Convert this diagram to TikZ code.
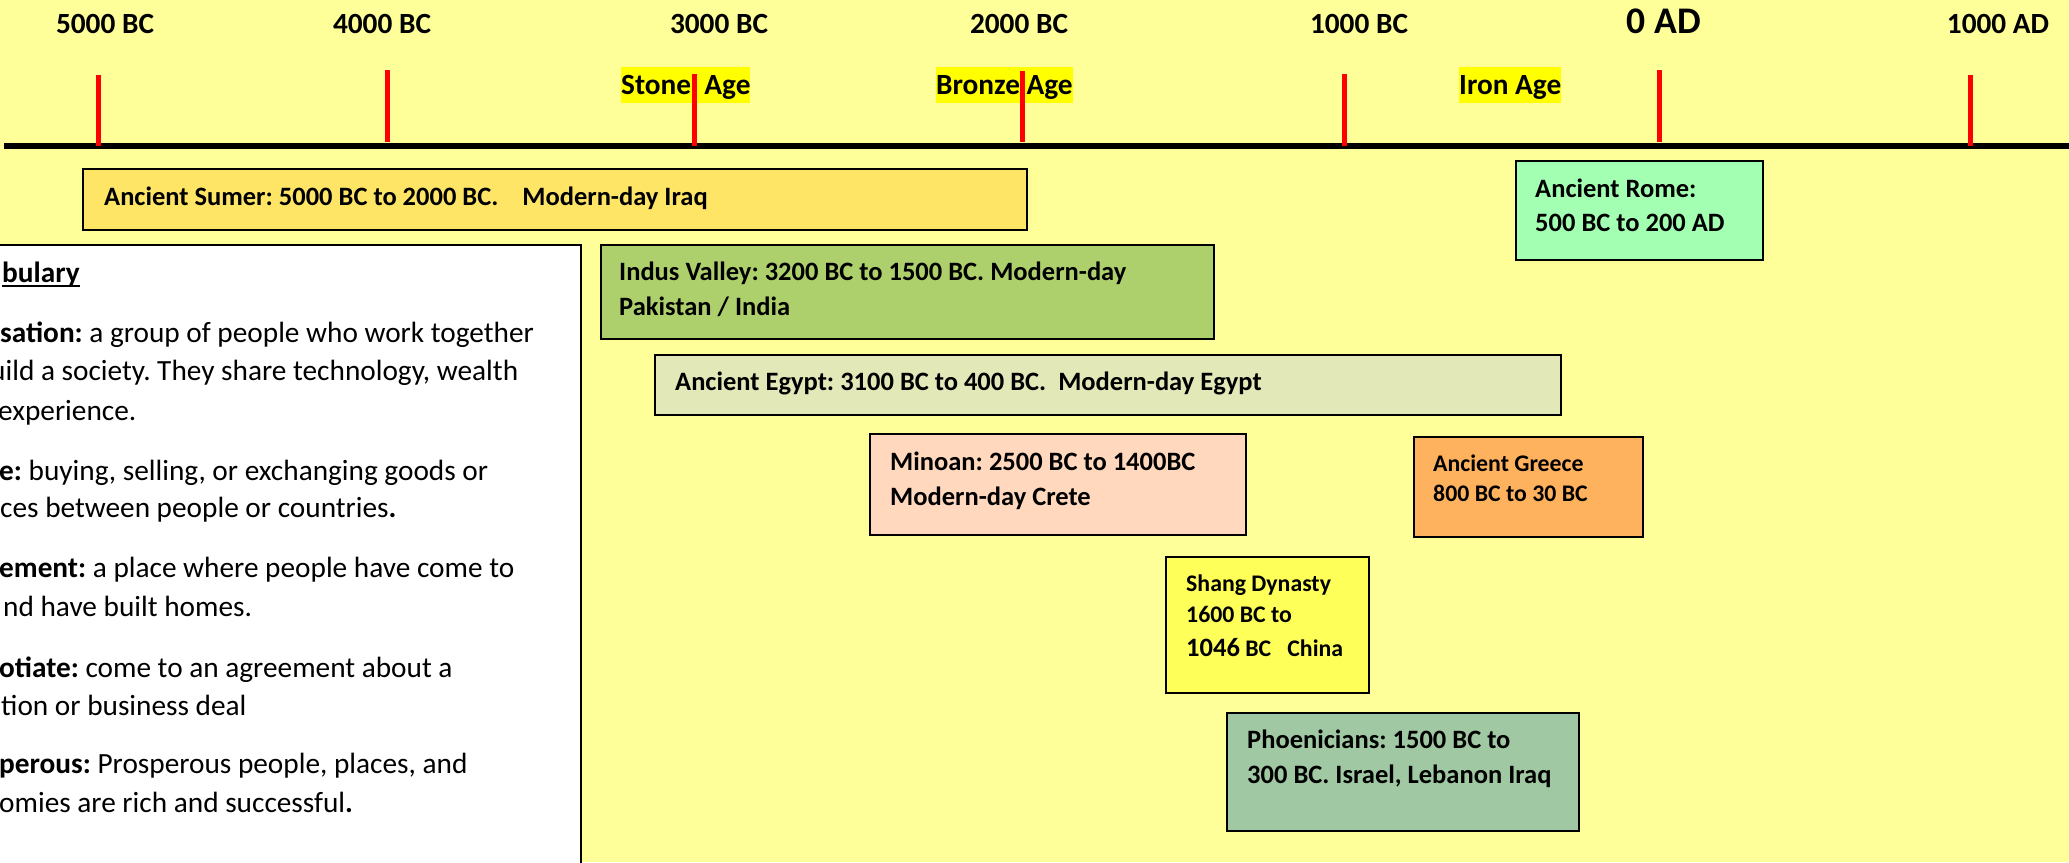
\documentclass[tikz,border=0pt]{standalone}
\usepackage{fontspec}
\setmainfont{Carlito}
\definecolor{bg}{HTML}{FFFF99}
\definecolor{hl}{HTML}{FFFF00}
\definecolor{tickred}{HTML}{FF0000}
\definecolor{sumerc}{HTML}{FFE566}
\definecolor{romec}{HTML}{A3FFB2}
\definecolor{indusc}{HTML}{AED06C}
\definecolor{egyptc}{HTML}{E2E8B8}
\definecolor{minoanc}{HTML}{FFD8BE}
\definecolor{greecec}{HTML}{FFB25E}
\definecolor{shangc}{HTML}{FFFF5A}
\definecolor{phoenc}{HTML}{A0C8A2}
\begin{document}
\frenchspacing
\begin{tikzpicture}[x=1pt,y=-1pt,
  box/.style={draw=black, line width=2pt, inner sep=0pt, anchor=north west},
  yr/.style={font=\fontsize{29.3}{35}\selectfont\bfseries, anchor=base, inner sep=0pt},
  agelbl/.style={font=\fontsize{29.3}{35}\selectfont\bfseries, anchor=base west, inner xsep=0pt, inner ysep=0pt, text height=27pt, text depth=9pt, fill=hl},
  tickln/.style={draw=tickred, line width=5pt},
  bt/.style={font=\fontsize{26.5}{32}\selectfont\bfseries, anchor=base west, inner sep=0pt},
  st/.style={font=\fontsize{23.8}{29}\selectfont\bfseries, anchor=base west, inner sep=0pt},
  vt/.style={font=\fontsize{29.3}{38.5}\selectfont, anchor=base west, inner sep=0pt},
]
\useasboundingbox (0,0) rectangle (2069,862);
\fill[bg] (0,0) rectangle (2069,862);
\begin{scope}
\clip (0,0) rectangle (2069,862);

% axis
\coordinate (axl) at (4,146);
\coordinate (axr) at (2069,146);
\draw[line width=6pt] (axl) -- (axr);

% year labels
\node[yr] (y5000) at (105,33) {5000 BC};
\node[yr] (y4000) at (382,33) {4000 BC};
\node[yr] (y3000) at (719,33) {3000 BC};
\node[yr] (y2000) at (1019,33) {2000 BC};
\node[yr] (y1000) at (1359,33) {1000 BC};
\node[yr, font=\fontsize{37.6}{42}\selectfont\bfseries] (y0) at (1664,33) {0 AD};
\node[yr] (y1000ad) at (1998,33) {1000 AD};

% ages
\node[agelbl] (stone) at (621,94) {Stone\ \ Age};
\node[agelbl] (bronze) at (936,94) {Bronze Age};
\node[agelbl] (iron) at (1459,94) {Iron Age};

% ticks
\foreach \n/\x/\a/\b in {1/98/75/146, 2/387/70/142, 3/694/74/146, 4/1022/71/142, 5/1344/74/146, 6/1659/70/142, 7/1970/75/146} {
  \coordinate (tk\n a) at (\x,\a);
  \coordinate (tk\n b) at (\x,\b);
  \draw[tickln] (tk\n a) -- (tk\n b);
}

% boxes
\node[box, fill=sumerc, minimum width=944pt, minimum height=61pt] (sumer) at (82,168) {};
\node[bt] (sumert) at (104,205) {Ancient Sumer: 5000 BC to 2000 BC.\ \ \ \ Modern-day Iraq};

\node[box, fill=romec, minimum width=247pt, minimum height=99pt] (rome) at (1515,160) {};
\node[bt] (romet1) at (1535,197) {Ancient Rome:};
\node[bt] (romet2) at (1535,231) {500 BC to 200 AD};

\node[box, fill=indusc, minimum width=613pt, minimum height=94pt] (indus) at (600,244) {};
\node[bt] (indust1) at (619,280) {Indus Valley: 3200 BC to 1500 BC. Modern-day};
\node[bt] (indust2) at (619,315) {Pakistan / India};

\node[box, fill=egyptc, minimum width=906pt, minimum height=60pt] (egypt) at (654,354) {};
\node[bt] (egyptt) at (675,390) {Ancient Egypt: 3100 BC to 400 BC.\ \ Modern-day Egypt};

\node[box, fill=minoanc, minimum width=376pt, minimum height=101pt] (minoan) at (869,433) {};
\node[bt] (minoant1) at (890,470) {Minoan: 2500 BC to 1400BC};
\node[bt] (minoant2) at (890,505) {Modern-day Crete};

\node[box, fill=greecec, minimum width=229pt, minimum height=100pt] (greece) at (1413,436) {};
\node[st] (greecet1) at (1433,471) {Ancient Greece};
\node[st] (greecet2) at (1433,501) {800 BC to 30 BC};

\node[box, fill=shangc, minimum width=203pt, minimum height=136pt] (shang) at (1165,556) {};
\node[st] (shangt1) at (1186,591) {Shang Dynasty};
\node[st] (shangt2) at (1186,622) {1600 BC to};
\node[st] (shangt3) at (1186,656) {{\fontsize{26.5}{30}\selectfont 1046} BC\ \ \ China};

\node[box, fill=phoenc, minimum width=352pt, minimum height=118pt] (phoen) at (1226,712) {};
\node[bt] (phoent1) at (1247,748) {Phoenicians: 1500 BC to};
\node[bt] (phoent2) at (1247,783) {300 BC. Israel, Lebanon Iraq};

% vocabulary box
\node[box, fill=white, minimum width=600pt, minimum height=700pt] (vocab) at (-20,244) {};
\node[vt] (v0) at (2,282) {\textbf{bulary}};
\draw[line width=2pt] ([yshift=-4pt]v0.base west) -- ([yshift=-4pt]v0.base east);
\node[vt] (v1) at (0,342) {\textbf{sation:} a group of people who work together};
\node[vt] (v2) at (-10,380) {uild a society. They share technology, wealth};
\node[vt] (v3) at (-2,420) {experience.};
\node[vt] (v4) at (-1,480) {\textbf{e:} buying, selling, or exchanging goods or};
\node[vt] (v5) at (0,517) {ces between people or countries\textbf{.}};
\node[vt] (v6) at (-1,577) {\textbf{ement:} a place where people have come to};
\node[vt] (v7) at (3,616) {nd have built homes.};
\node[vt] (v8) at (-1,677) {\textbf{otiate:} come to an agreement about a};
\node[vt] (v9) at (1,715) {tion or business deal};
\node[vt] (v10) at (-1,773) {\textbf{perous:} Prosperous people, places, and};
\node[vt] (v11) at (-1,812) {omies are rich and successful\textbf{.}};
\end{scope}
\end{tikzpicture}
\end{document}
